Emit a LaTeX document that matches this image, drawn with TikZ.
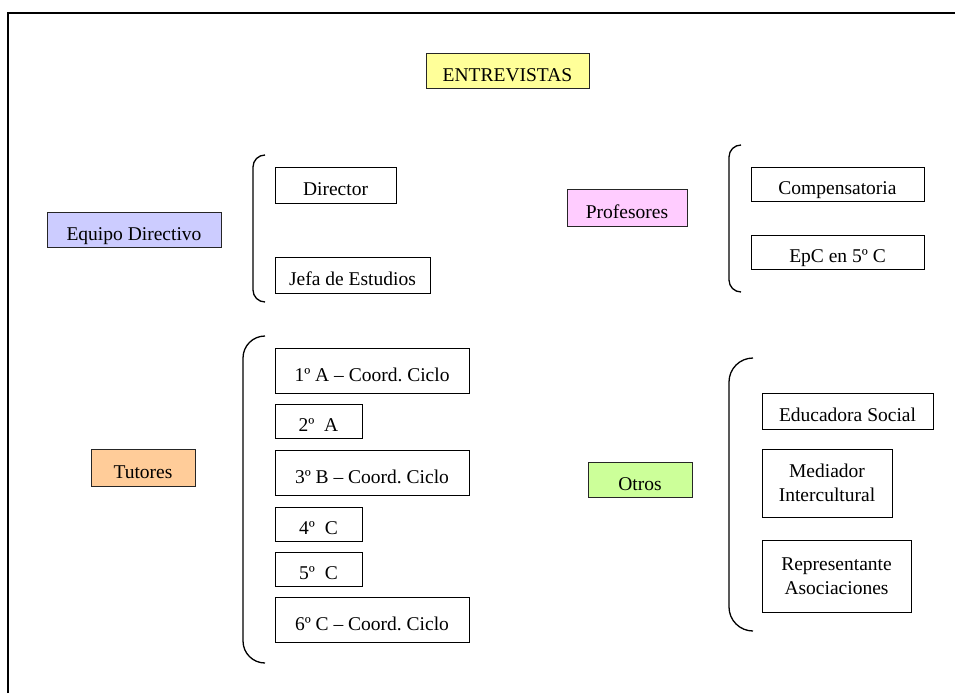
\documentclass[tikz,border=0pt]{standalone}
\usepackage{fontspec}
\setmainfont{Liberation Serif}
\frenchspacing
\definecolor{cyellow}{HTML}{FFFF99}
\definecolor{clav}{HTML}{CCCCFF}
\definecolor{cpink}{HTML}{FFCCFF}
\definecolor{cgreen}{HTML}{CCFF99}
\definecolor{cpeach}{HTML}{FFCC99}
\begin{document}
\begin{tikzpicture}[x=1pt,y=-1pt,
  bxm/.style={draw=black,line width=1pt,inner sep=0pt,align=center,
    font=\fontsize{19.5}{24}\selectfont\frenchspacing},
  bx/.style={bxm,text height=23pt,text depth=2pt},
  cat/.style={bx,draw=black!85},
  brk/.style={line width=1.3pt}]
\useasboundingbox (0,0) rectangle (955,693);
\fill[white] (0,0) rectangle (955,693);
\draw[line width=2.2pt] (8,693) -- (8,13) -- (955,13);
% categories
\node[cat,fill=cyellow,minimum width=163,minimum height=34] (entre) at (507.5,71) {ENTREVISTAS};
\node[cat,fill=clav,minimum width=174,minimum height=35] (equipo) at (134,229.5) {Equipo Directivo};
\node[cat,fill=cpink,minimum width=120,minimum height=37] (prof) at (627,207.5) {Profesores};
\node[cat,fill=cpeach,minimum width=104,minimum height=37] (tut) at (143,467.5) {Tutores};
\node[cat,fill=cgreen,minimum width=104,minimum height=35] (otros) at (640,479.5) {Otros};
% equipo directivo
\node[bx,minimum width=121,minimum height=36] (dir) at (335.5,185) {Director};
\node[bx,minimum width=155,minimum height=36] (jefa) at (352.5,275) {Jefa de Estudios};
% tutores
\node[bx,minimum width=194,minimum height=45] (t1) at (372,370.5) {1º A – Coord. Ciclo};
\node[bx,minimum width=87,minimum height=34] (t2) at (318.5,421) {2º\ \ A};
\node[bx,minimum width=194,minimum height=45] (t3) at (372,472.5) {3º B – Coord. Ciclo};
\node[bx,minimum width=87,minimum height=34] (t4) at (318.5,524) {4º\ \ C};
\node[bx,minimum width=87,minimum height=34] (t5) at (318.5,569) {5º\ \ C};
\node[bx,minimum width=194,minimum height=45] (t6) at (372,619.5) {6º C – Coord. Ciclo};
% profesores
\node[bx,minimum width=173,minimum height=34] (comp) at (837.5,184) {Compensatoria};
\node[bx,minimum width=173,minimum height=34] (epc) at (837.5,252) {EpC en 5º C};
% otros
\node[bx,minimum width=171,minimum height=36] (edu) at (847.5,411) {Educadora Social};
\node[bxm,minimum width=130,minimum height=68] (med) at (827,483) {Mediador\\Intercultural};
\node[bxm,minimum width=149,minimum height=72] (rep) at (836.5,576) {Representante\\Asociaciones};
% brackets
\draw[brk,rounded corners=12pt] (265,155) -- (253,155) -- (253,302) -- (265,302);
\draw[brk,rounded corners=22pt] (265,336) -- (243,336) -- (243,663) -- (265,663);
\draw[brk,rounded corners=12pt] (741,145) -- (729,145) -- (729,292) -- (741,292);
\draw[brk,rounded corners=24pt] (753,358) -- (729,358) -- (729,631) -- (753,631);
\end{tikzpicture}
\end{document}
